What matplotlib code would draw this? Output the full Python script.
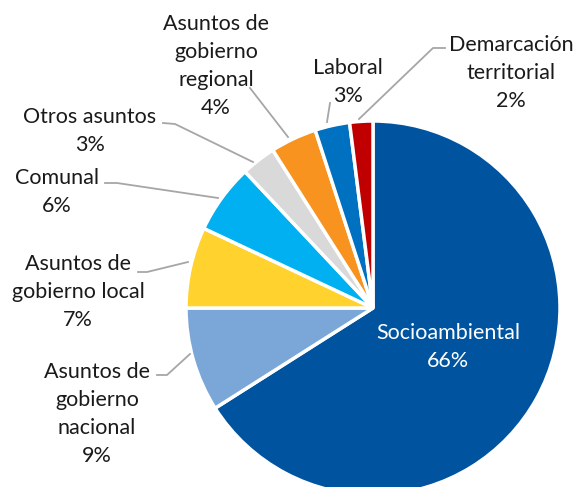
import matplotlib.pyplot as plt

# data
labels = ['Socioambiental', 'Asuntos de\ngobierno\nnacional', 'Asuntos de\ngobierno local',
          'Comunal', 'Otros asuntos', 'Asuntos de\ngobierno\nregional', 'Laboral',
          'Demarcación\nterritorial']
values = [66, 9, 7, 6, 3, 4, 3, 2]
colors = ['#00549F', '#7BA7D8', '#FFD22E', '#00B0F0', '#D9D9D9', '#F7931E', '#0070C0', '#C00000']

# label positions (pixels from top-left) and leader lines
label_xy = [(448, 347), (97, 414), (78, 292), (57, 192), (90, 131), (216, 66), (348, 82), (511, 73)]
leaders = [None,
           [(157, 375), (167, 375), (190, 354)],
           [(138, 272), (147, 272), (188, 262)],
           [(105, 183), (117, 183), (218, 198)],
           [(163, 123), (175, 124), (253, 162)],
           [(250, 88), (288, 137)],
           [(330, 103), (327, 122)],
           [(445, 48), (433, 48), (359, 119)]]

W, H = 578, 487
plt.rcParams['font.family'] = ['Lato', 'DejaVu Sans']
fig = plt.figure(figsize=(W / 100, H / 100), dpi=100)
ax = fig.add_axes([0, 0, 1, 1])

cx, cy, r = 373, 308, 187
ax.pie(values, colors=colors, startangle=90, counterclock=False,
       center=(cx, H - cy), radius=r, frame=True,
       wedgeprops=dict(edgecolor='white', linewidth=2.5))

for i, (lab, v) in enumerate(zip(labels, values)):
    x, y = label_xy[i]
    col = 'white' if i == 0 else '#1a1a1a'
    ax.text(x, H - y, f'{lab}\n{v}%', ha='center', va='center', fontsize=15.5,
            color=col, linespacing=1.5)
    if leaders[i]:
        xs = [p[0] for p in leaders[i]]
        ys = [H - p[1] for p in leaders[i]]
        ax.plot(xs, ys, color='#A6A6A6', lw=1.3)

ax.set_xlim(0, W)
ax.set_ylim(0, H)
ax.set_aspect('equal')
ax.axis('off')
fig.savefig('out.png', dpi=100)
